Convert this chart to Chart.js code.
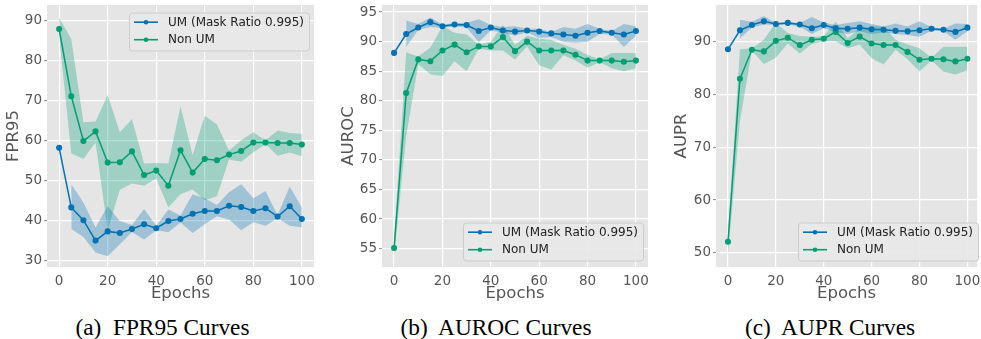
<!DOCTYPE html>
<html>
<head>
<meta charset="utf-8">
<script src="https://cdn.jsdelivr.net/npm/chart.js@4.4.0/dist/chart.umd.min.js"></script>
<style>
  body { margin: 0; background: #fff; }
  #wrap { position: relative; width: 981px; height: 339px; overflow: hidden; }
  .panel { position: absolute; top: 0; height: 305px; }
  .cap { position: absolute; top: 316px; font-family: "Liberation Serif", serif; font-size: 23.3px; line-height: 1;
         transform: translateX(-50%); white-space: pre; color: #000; }
</style>
</head>
<body>
<div id="wrap">
  <div class="panel" style="left:0;width:322px"><canvas id="fpr"></canvas></div>
  <div class="panel" style="left:330px;width:330px"><canvas id="auroc"></canvas></div>
  <div class="panel" style="left:660px;width:321px"><canvas id="aupr"></canvas></div>
  <div class="cap" style="left:162.5px">(a)  FPR95 Curves</div>
  <div class="cap" style="left:496px">(b)  AUROC Curves</div>
  <div class="cap" style="left:830px">(c)  AUPR Curves</div>
</div>
<script>
const epochs = [0, 5, 10, 15, 20, 25, 30, 35, 40, 45, 50, 55, 60, 65, 70, 75, 80, 85, 90, 95, 100];
const xTicks = [0, 20, 40, 60, 80, 100];
const seriesNames = ['UM (Mask Ratio 0.995)', 'Non UM'];

// FPR95
const fprUm    = [58.1, 43.2, 40.0, 34.9, 37.2, 36.8, 37.8, 39.0, 38.0, 39.8, 40.3, 41.6, 42.3, 42.3, 43.6, 43.3, 42.3, 43.0, 40.9, 43.5, 40.3];
const fprUmLo  = [null, 37.8, 35.8, 31.9, 31.0, 34.0, 37.0, 35.2, 37.5, 37.0, 39.4, 36.8, 39.0, 41.0, 40.2, 37.5, 39.5, 38.6, 40.5, 38.6, 38.2];
const fprUmHi  = [null, 49.0, 44.4, 38.2, 43.5, 39.8, 38.8, 42.8, 38.6, 42.7, 41.2, 46.5, 45.5, 43.8, 47.0, 49.0, 45.5, 47.3, 41.3, 48.4, 43.2];
const fprNon   = [87.8, 71.0, 59.8, 62.2, 54.4, 54.5, 57.2, 51.3, 52.4, 48.6, 57.5, 51.9, 55.3, 55.0, 56.4, 57.3, 59.4, 59.4, 59.3, 59.3, 58.9];
const fprNonLo = [86.0, 56.7, 55.3, 59.4, 37.5, 47.6, 49.2, 48.6, 50.4, 43.2, 46.5, 47.7, 45.0, 46.0, 55.2, 54.6, 57.0, 59.0, 56.1, 56.9, 56.0];
const fprNonHi = [90.6, 85.3, 64.5, 64.7, 71.3, 62.0, 65.3, 54.2, 54.3, 54.2, 68.5, 56.3, 66.1, 63.9, 57.4, 60.0, 62.0, 60.0, 62.4, 61.8, 61.6];
const fprYTicks = [30, 40, 50, 60, 70, 80, 90];

// AUROC
const aurocUm    = [88.1, 91.3, 92.4, 93.3, 92.6, 92.9, 92.8, 91.8, 92.4, 91.9, 91.7, 91.9, 91.7, 91.4, 91.2, 91.0, 91.5, 91.8, 91.5, 91.2, 91.8];
const aurocUmLo  = [null, 89.1, 92.0, 92.5, 92.3, 92.6, 92.4, 89.9, 91.9, 91.5, 91.0, 91.6, 90.6, 90.8, 90.0, 89.8, 90.0, 91.3, 91.2, 89.1, 91.0];
const aurocUmHi  = [null, 93.6, 93.0, 94.1, 92.9, 93.1, 93.2, 93.8, 92.8, 92.5, 92.6, 92.2, 92.2, 91.6, 92.5, 92.2, 93.0, 92.2, 91.8, 93.0, 92.6];
const aurocNon   = [55.1, 81.3, 87.0, 86.7, 88.5, 89.5, 88.2, 89.2, 89.2, 90.8, 88.4, 90.0, 88.5, 88.5, 88.5, 87.8, 86.8, 86.8, 86.8, 86.6, 86.8];
const aurocNonLo = [53.8, 74.0, 86.2, 84.5, 84.2, 86.7, 85.0, 88.8, 88.5, 88.5, 87.0, 89.2, 86.0, 85.3, 87.7, 86.8, 85.6, 86.5, 85.5, 85.0, 85.5];
const aurocNonHi = [56.5, 88.2, 87.5, 89.0, 92.6, 91.5, 91.2, 89.5, 90.0, 92.8, 89.5, 91.0, 90.5, 90.3, 89.5, 88.8, 87.8, 87.0, 88.1, 88.1, 88.1];
const aurocYTicks = [55, 60, 65, 70, 75, 80, 85, 90, 95];

// AUPR
const auprUm    = [88.6, 92.2, 93.2, 93.9, 93.4, 93.6, 93.3, 92.6, 93.2, 92.6, 92.5, 92.7, 92.4, 92.3, 92.1, 92.0, 92.2, 92.5, 92.3, 91.9, 92.7];
const auprUmLo  = [null, 90.7, 92.7, 93.3, 93.2, 93.3, 92.9, 91.5, 92.6, 91.9, 91.5, 92.0, 91.5, 91.8, 91.5, 91.3, 91.0, 92.1, 92.0, 90.4, 92.0];
const auprUmHi  = [null, 94.2, 93.8, 94.9, 93.6, 93.8, 93.6, 94.7, 93.7, 93.2, 93.6, 93.9, 93.4, 92.9, 93.5, 92.9, 93.9, 92.8, 92.5, 93.5, 93.4];
const auprNon   = [52.1, 83.0, 88.5, 88.2, 90.2, 90.8, 89.4, 90.4, 90.6, 91.9, 89.8, 91.0, 89.7, 89.4, 89.4, 88.1, 86.6, 86.8, 86.7, 86.3, 86.8];
const auprNonLo = [49.6, 75.0, 88.3, 85.8, 87.0, 89.7, 87.8, 89.6, 90.1, 90.1, 88.8, 89.5, 86.9, 85.7, 88.5, 86.7, 84.4, 86.5, 84.4, 83.8, 84.6];
const auprNonHi = [53.5, 88.6, 88.8, 90.4, 93.6, 91.7, 91.1, 91.0, 91.1, 93.8, 90.7, 92.5, 92.9, 92.9, 90.4, 89.5, 88.8, 87.0, 89.1, 89.1, 89.1];
const auprYTicks = [50, 60, 70, 80, 90];

const BLUE = '#0072B2', GREEN = '#009E73';
const FONT = 'DejaVu Sans';

// gray panel behind the plot, like the ggplot style
const bgPlugin = {
  id: 'panelBg',
  beforeDraw(chart) {
    const { ctx, chartArea: a } = chart;
    ctx.save();
    ctx.fillStyle = '#E5E5E5';
    ctx.fillRect(a.left, a.top, a.right - a.left, a.bottom - a.top);
    ctx.restore();
  }
};

// legend box placed inside the plot
const boxLegend = {
  id: 'boxLegend',
  afterDraw(chart, args, o) {
    const ctx = chart.ctx;
    ctx.save();
    ctx.fillStyle = 'rgba(232,232,232,0.9)';
    ctx.strokeStyle = '#cccccc';
    ctx.lineWidth = 1;
    ctx.beginPath();
    if (ctx.roundRect) ctx.roundRect(o.x + 0.5, o.y + 0.5, o.w, o.h, 3);
    else ctx.rect(o.x + 0.5, o.y + 0.5, o.w, o.h);
    ctx.fill();
    ctx.stroke();
    [0, 1].forEach(i => {
      const ds = chart.data.datasets[i];
      const y = o.y + 9.7 + i * 17.5;
      ctx.strokeStyle = ds.borderColor;
      ctx.lineWidth = 1.6;
      ctx.beginPath();
      ctx.moveTo(o.x + 5, y);
      ctx.lineTo(o.x + 29, y);
      ctx.stroke();
      ctx.fillStyle = ds.borderColor;
      ctx.beginPath();
      ctx.arc(o.x + 17, y, 2.3, 0, Math.PI * 2);
      ctx.fill();
      ctx.fillStyle = '#222';
      ctx.font = '12px "' + FONT + '"';
      ctx.textBaseline = 'middle';
      ctx.fillText(ds.label, o.x + 39, y + 0.5);
    });
    ctx.restore();
  }
};

function pts(ys) {
  return epochs.map((x, i) => ({ x: x, y: ys[i] }));
}

function makeChart(id, p) {
  const line = (label, ys, color) => ({
    label: label, data: pts(ys), borderColor: color, backgroundColor: color,
    borderWidth: 1.5, pointRadius: 2.3, pointHoverRadius: 2.3, fill: false
  });
  const edge = (ys, fill, color) => ({
    data: pts(ys), borderWidth: 0, pointRadius: 0, borderColor: 'transparent',
    backgroundColor: color, fill: fill
  });
  return new Chart(document.getElementById(id), {
    type: 'line',
    data: {
      datasets: [
        line(seriesNames[0], p.um, BLUE),
        line(seriesNames[1], p.non, GREEN),
        edge(p.umLo, false, 'transparent'),
        edge(p.umHi, '-1', 'rgba(0,114,178,0.3)'),
        edge(p.nonLo, false, 'transparent'),
        edge(p.nonHi, '-1', 'rgba(0,158,115,0.3)')
      ]
    },
    options: {
      responsive: true,
      maintainAspectRatio: false,
      animation: false,
      spanGaps: false,
      layout: { padding: { left: 0, right: p.padR, top: 5, bottom: 0 } },
      plugins: {
        legend: { display: false },
        tooltip: { enabled: false },
        boxLegend: p.legend
      },
      scales: {
        x: {
          type: 'linear', min: -5, max: p.xMax,
          afterBuildTicks: s => { s.ticks = xTicks.map(v => ({ value: v })); },
          afterFit: s => { s.height = 38; s.paddingLeft = 0; s.paddingRight = 0; },
          grid: { color: '#ffffff', lineWidth: 1.2, drawTicks: false },
          border: { display: false },
          ticks: { color: '#555', font: { family: FONT, size: 13.5 }, padding: 6, maxRotation: 0, autoSkip: false },
          title: { display: true, text: 'Epochs', color: '#555', font: { family: FONT, size: 16.5 }, padding: { top: 0, bottom: 1 } }
        },
        y: {
          min: p.yMin, max: p.yMax,
          afterBuildTicks: s => { s.ticks = p.yTicks.map(v => ({ value: v })); },
          afterFit: s => { s.width = p.yW; s.paddingTop = 0; s.paddingBottom = 0; },
          grid: { color: '#ffffff', lineWidth: 1.2, drawTicks: true, tickLength: 3, tickColor: '#8a8a8a', tickWidth: 1 },
          border: { display: false },
          ticks: { color: '#555', font: { family: FONT, size: 13.5 }, padding: 2, autoSkip: false },
          title: { display: true, text: p.yTitle, color: '#555', font: { family: FONT, size: 16.5 }, padding: { top: p.yTitlePad, bottom: 0 } }
        }
      }
    },
    plugins: [bgPlugin, boxLegend]
  });
}

makeChart('fpr', {
  um: fprUm, umLo: fprUmLo, umHi: fprUmHi, non: fprNon, nonLo: fprNonLo, nonHi: fprNonHi,
  yTicks: fprYTicks, yMin: 28.3, yMax: 93.8, yTitle: 'FPR95', yTitlePad: 4,
  yW: 47, padR: 8, xMax: 105,
  legend: { x: 129, y: 12.5, w: 180, h: 38 }
});
makeChart('auroc', {
  um: aurocUm, umLo: aurocUmLo, umHi: aurocUmHi, non: aurocNon, nonLo: aurocNonLo, nonHi: aurocNonHi,
  yTicks: aurocYTicks, yMin: 51.9, yMax: 96.2, yTitle: 'AUROC', yTitlePad: 9,
  yW: 52, padR: 12, xMax: 105,
  legend: { x: 133, y: 222.5, w: 180, h: 38 }
});
makeChart('aupr', {
  um: auprUm, umLo: auprUmLo, umHi: auprUmHi, non: auprNon, nonLo: auprNonLo, nonHi: auprNonHi,
  yTicks: auprYTicks, yMin: 47.3, yMax: 97.0, yTitle: 'AUPR', yTitlePad: 12,
  yW: 56, padR: 0, xMax: 104.1,
  legend: { x: 138, y: 222.5, w: 180, h: 38 }
});
</script>
</body>
</html>
